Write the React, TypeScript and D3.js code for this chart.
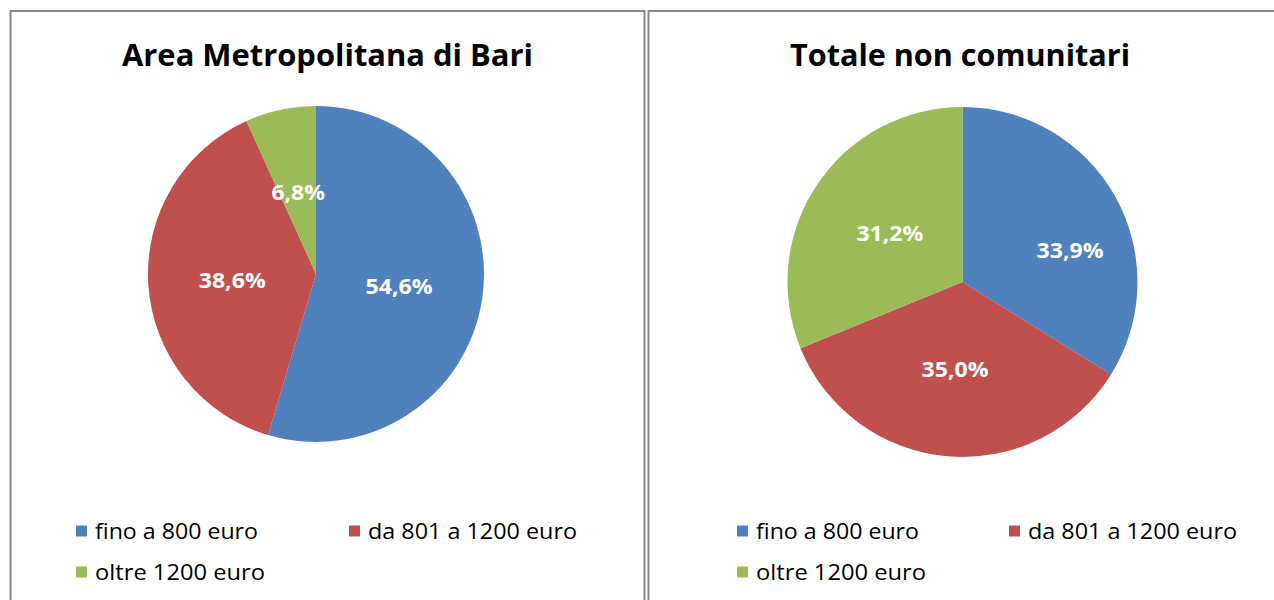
import React from "react";
import * as d3 from "d3";

const categories = ["fino a 800 euro", "da 801 a 1200 euro", "oltre 1200 euro"];
const bariValues = [54.6, 38.6, 6.8];
const totaleValues = [33.9, 35.0, 31.2];
const chartTitles = ["Area Metropolitana di Bari", "Totale non comunitari"];
const colors = ["#4F81BD", "#C0504D", "#9BBB59"];

const W = 1274;
const H = 600;
const FONT = "'Open Sans', 'Liberation Sans', sans-serif";

type PanelCfg = {
  x0: number;
  x1: number;
  cx: number;
  cy: number;
  r: number;
  titleX: number;
  titleLen: number;
  legendX: number[];
  legendY: number[];
  legendLen: number[];
  labelAdj: { dx: number; dy: number }[];
};

const panels: PanelCfg[] = [
  {
    x0: 10.5,
    x1: 644.5,
    cx: 316,
    cy: 274,
    r: 168,
    titleX: 327.5,
    titleLen: 411,
    legendX: [76, 349, 76],
    legendY: [531, 531, 572],
    legendLen: [163, 209, 170],
    labelAdj: [
      { dx: 0, dy: 0 },
      { dx: 0, dy: 0 },
      { dx: 0, dy: 0 },
    ],
  },
  {
    x0: 648.5,
    x1: 1290,
    cx: 962.5,
    cy: 282,
    r: 175,
    titleX: 960,
    titleLen: 340,
    legendX: [737, 1009, 737],
    legendY: [531, 531, 572],
    legendLen: [163, 209, 170],
    labelAdj: [
      { dx: 31, dy: 10 },
      { dx: 0, dy: 0 },
      { dx: 0, dy: 0 },
    ],
  },
];

function Pie({ cfg, values, title }: { cfg: PanelCfg; values: number[]; title: string }) {
  const pie = d3
    .pie<number>()
    .sort(null)
    .value((d) => d)
    .startAngle(0)
    .endAngle(2 * Math.PI);
  const arcs = pie(values);
  const arc = d3.arc<d3.PieArcDatum<number>>().innerRadius(0).outerRadius(cfg.r);
  const fmt = (v: number) => v.toFixed(1).replace(".", ",") + "%";
  return (
    <g>
      <rect
        x={cfg.x0}
        y={11}
        width={cfg.x1 - cfg.x0}
        height={H + 20}
        fill="#fff"
        stroke="#878787"
        strokeWidth={2}
      />
      <text
        x={cfg.titleX}
        y={66}
        textAnchor="middle"
        fontFamily={FONT}
        fontWeight="bold"
        fontSize={30}
        textLength={cfg.titleLen}
        lengthAdjust="spacingAndGlyphs"
        fill="#000"
      >
        {title}
      </text>
      <g transform={`translate(${cfg.cx},${cfg.cy})`}>
        {arcs.map((a, i) => (
          <path key={i} d={arc(a) || ""} fill={colors[i]} />
        ))}
        {arcs.map((a, i) => {
          const [x, y] = arc.centroid(a);
          const label = fmt(values[i]);
          return (
            <text
              key={"l" + i}
              x={x + cfg.labelAdj[i].dx}
              y={y + cfg.labelAdj[i].dy}
              textAnchor="middle"
              dominantBaseline="central"
              fontFamily={FONT}
              fontWeight="bold"
              fontSize={21}
              textLength={label.length * 13.4}
              lengthAdjust="spacingAndGlyphs"
              fill="#fff"
            >
              {label}
            </text>
          );
        })}
      </g>
      {categories.map((c, i) => (
        <g key={"lg" + i}>
          <rect
            x={cfg.legendX[i]}
            y={cfg.legendY[i] - 5.5}
            width={11}
            height={11}
            fill={colors[i]}
          />
          <text
            x={cfg.legendX[i] + 19}
            y={cfg.legendY[i]}
            dominantBaseline="central"
            fontFamily={FONT}
            fontSize={21}
            textLength={cfg.legendLen[i]}
            lengthAdjust="spacingAndGlyphs"
            fill="#000"
          >
            {c}
          </text>
        </g>
      ))}
    </g>
  );
}

export default function App() {
  return (
    <div style={{ position: "absolute", left: 0, top: 0, width: W, height: H, overflow: "hidden" }}>
      <svg width={W} height={H} style={{ display: "block", background: "#fff" }}>
        <Pie cfg={panels[0]} values={bariValues} title={chartTitles[0]} />
        <Pie cfg={panels[1]} values={totaleValues} title={chartTitles[1]} />
      </svg>
    </div>
  );
}
